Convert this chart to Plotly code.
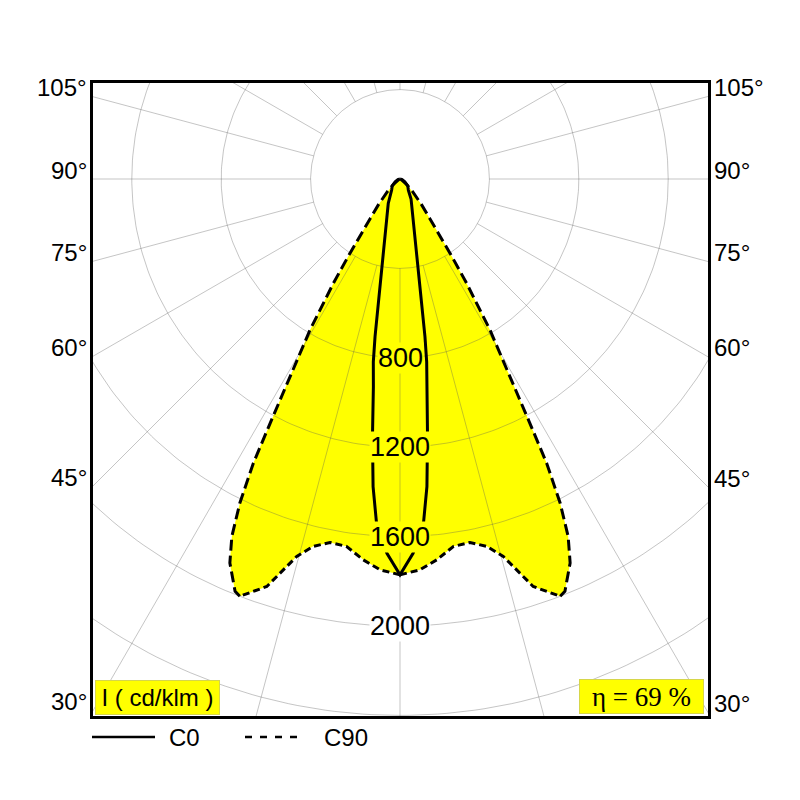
import numpy as np
import plotly.graph_objects as go

# luminous intensity distribution (cd/klm), symmetric halves, gamma = degrees from nadir
gamma_c0 = [0, 2, 3.9, 5, 6.1, 7.3, 8.3, 9, 10.5, 12.5, 14.6, 19, 25.7, 29, 37, 49, 60, 75, 90]
cd_c0 = [1771, 1676, 1544, 1382, 1159, 937, 827, 714, 490, 350, 267, 180, 121, 102, 62, 46, 25, 10, 0]

gamma_c90 = [0, 2.9, 5.5, 8.3, 10.9, 13.3, 15.3, 18.1, 21, 21.8, 23.9, 25.2, 26.3, 27.3, 28,
             29.1, 30.8, 32.6, 34, 37, 40, 45, 50, 60, 90]
cd_c90 = [1771, 1751, 1712, 1661, 1656, 1689, 1751, 1918, 2000, 1987, 1879, 1767, 1617, 1430, 1237,
          1011, 786, 552, 400, 220, 150, 80, 40, 10, 0]

rings = [400, 800, 1200, 1600, 2000, 2400, 2800]
ring_labels = ['800', '1200', '1600', '2000']
angle_labels = [30, 45, 60, 75, 90, 105]
efficiency = 69


def both_sides(gam, cd):
    g = np.array(gam, dtype=float)
    i = np.array(cd, dtype=float)
    th = np.radians(np.concatenate([-g[::-1], g[1:]]))
    r = np.concatenate([i[::-1], i[1:]])
    return r * np.sin(th), -r * np.cos(th)


def one_side(gam, cd, sign):
    th = np.radians(np.array(gam, dtype=float)) * sign
    r = np.array(cd, dtype=float)
    return list(r * np.sin(th)), list(-r * np.cos(th))


# pixel geometry of the frame (page pixels, page has an 8px body margin)
off = 8
cx, cy = 400, 179
left, right, top, bottom = 93, 708, 83, 716
k = 400 / 89.4  # cd per pixel

xr = [(left - cx) * k, (right - cx) * k]
yr = [-(bottom - cy) * k, (cy - top) * k]

fig = go.Figure()

x90, y90 = both_sides(gamma_c90, cd_c90)
fig.add_trace(go.Scatter(x=x90, y=y90, fill='toself', fillcolor='#ffff00',
                         mode='lines', line=dict(width=0), hoverinfo='skip'))

# grid: circles and rays from the 400 ring outwards
t = np.linspace(0, 2 * np.pi, 361)
gx, gy = [], []
for r in rings:
    gx += list(r * np.cos(t)) + [None]
    gy += list(r * np.sin(t)) + [None]
for a in range(0, 360, 15):
    ar = np.radians(a)
    gx += [400 * np.sin(ar), 5000 * np.sin(ar), None]
    gy += [-400 * np.cos(ar), -5000 * np.cos(ar), None]
fig.add_trace(go.Scatter(x=gx, y=gy, mode='lines', hoverinfo='skip',
                         line=dict(color='rgba(90,90,90,0.35)', width=1)))

# C90: longer dashes on the flanks, shorter along the bottom lobes
split = gamma_c90.index(21)
bx, by, fx, fy = [], [], [], []
for s in (-1, 1):
    x, y = one_side(gamma_c90[:split + 1], cd_c90[:split + 1], s)
    bx += x + [None]
    by += y + [None]
    x, y = one_side(gamma_c90[split:], cd_c90[split:], s)
    fx += x + [None]
    fy += y + [None]
fig.add_trace(go.Scatter(x=bx, y=by, mode='lines', name='C90',
                         line=dict(color='black', width=3, dash='7px,4px')))
fig.add_trace(go.Scatter(x=fx, y=fy, mode='lines', name='C90',
                         line=dict(color='black', width=3, dash='11px,5px')))

x0, y0 = both_sides(gamma_c0, cd_c0)
fig.add_trace(go.Scatter(x=x0, y=y0, mode='lines', name='C0',
                         line=dict(color='black', width=3)))

font = dict(family='Liberation Sans, Arial', size=24, color='black')

for lab in ring_labels:
    v = float(lab)
    bg = '#ffff00' if v < 1800 else 'white'
    fig.add_annotation(x=0, y=-v, text=lab, showarrow=False, bgcolor=bg, borderpad=0,
                       font=dict(family='Liberation Sans, Arial', size=27, color='black'))

for a in angle_labels:
    cot = 1 / np.tan(np.radians(a))
    fig.add_annotation(x=xr[0], y=xr[0] * cot, text=f'{a}°', showarrow=False,
                       xanchor='right', xshift=-4, yshift=9, font=font)
    fig.add_annotation(x=xr[1], y=-xr[1] * cot, text=f'{a}°', showarrow=False,
                       xanchor='left', xshift=4, yshift=9, font=font)


def px(x):
    return (x - left) / (right - left)


def py(y):
    return (bottom - y) / (bottom - top)


fig.add_annotation(xref='paper', yref='paper', x=px(95), y=py(715), xanchor='left', yanchor='bottom',
                   text='I ( cd/klm )', showarrow=False, width=121, height=31, bgcolor='#ffff00',
                   bordercolor='#d6d64a', borderwidth=1, borderpad=1, font=font)
fig.add_annotation(xref='paper', yref='paper', x=px(704), y=py(714), xanchor='right', yanchor='bottom',
                   text=f'η = {efficiency} %', showarrow=False, width=121, height=31, bgcolor='#ffff00',
                   bordercolor='#d6d64a', borderwidth=1, borderpad=1,
                   font=dict(family='Liberation Serif, Times New Roman', size=27, color='black'))

# legend under the frame
fig.add_shape(type='line', xref='paper', yref='paper', x0=px(92), x1=px(155), y0=py(737), y1=py(737),
              line=dict(color='black', width=2.5))
fig.add_shape(type='line', xref='paper', yref='paper', x0=px(245), x1=px(300), y0=py(737), y1=py(737),
              line=dict(color='black', width=2.5, dash='7px,8px'))
fig.add_annotation(xref='paper', yref='paper', x=px(167), y=py(737), xanchor='left', yanchor='middle',
                   text='C0', showarrow=False, font=font)
fig.add_annotation(xref='paper', yref='paper', x=px(322), y=py(737), xanchor='left', yanchor='middle',
                   text='C90', showarrow=False, font=font)

ax = dict(showgrid=False, zeroline=False, showticklabels=False, ticks='',
          showline=True, mirror=True, linecolor='black', linewidth=2.5)
fig.update_xaxes(ax, range=xr)
fig.update_yaxes(ax, range=yr)
fig.update_layout(width=800, height=800, showlegend=False,
                  margin=dict(l=left - off, r=800 - right + off, t=top - off, b=800 - bottom + off),
                  paper_bgcolor='white', plot_bgcolor='white')

fig.write_html('out.html')
